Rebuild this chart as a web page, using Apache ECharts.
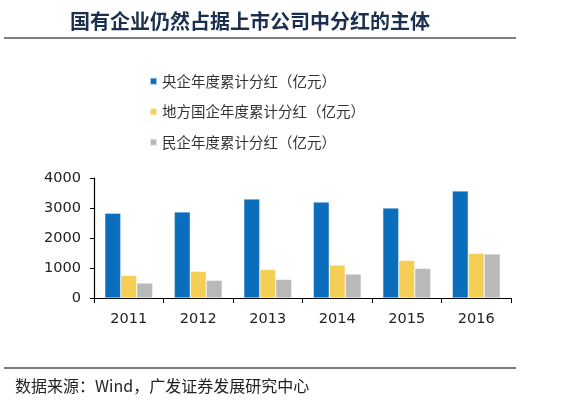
<!DOCTYPE html>
<html><head><meta charset="utf-8">
<script src="https://cdn.jsdelivr.net/npm/echarts@6/dist/echarts.min.js"></script>
<style>html,body{margin:0;padding:0;background:#fff}#c{width:565px;height:403px}</style>
</head><body><div id="c"></div>
<script>
var categories = ['2011','2012','2013','2014','2015','2016'];
var central = [2830, 2870, 3300, 3200, 3000, 3570];
var local = [755, 890, 955, 1100, 1255, 1490];
var privateEnt = [500, 590, 620, 800, 990, 1470];
var seriesNames = ['央企年度累计分红（亿元）','地方国企年度累计分红（亿元）','民企年度累计分红（亿元）'];
var yTicks = [0, 1000, 2000, 3000, 4000];

var chart = echarts.init(document.getElementById('c'));
var cjk = '"Noto Sans CJK SC", sans-serif';
var barBorder = {borderColor:'rgba(255,255,255,0.6)', borderWidth:0.6};
chart.setOption({
  animation:false,
  textStyle:{fontFamily:'"DejaVu Sans", sans-serif'},
  graphic:[
    {type:'text', left:70, top:11, style:{text:'国有企业仍然占据上市公司中分红的主体', font:'bold 20px "Noto Sans CJK SC"', fill:'#1b2f4e'}},
    {type:'line', shape:{x1:4,y1:38,x2:516,y2:38}, style:{stroke:'#000', lineWidth:1.2}},
    {type:'line', shape:{x1:4,y1:368,x2:516,y2:368}, style:{stroke:'#000', lineWidth:1.2}},
    {type:'text', left:15, top:378, style:{text:'数据来源：Wind，广发证券发展研究中心', font:'16px "Noto Sans CJK SC"', fill:'#222'}}
  ],
  legend:{
    orient:'vertical', left:144, top:69, itemWidth:7, itemHeight:7, itemGap:16,
    icon:'rect',
    textStyle:{fontFamily:cjk, fontSize:14.5, color:'#333'},
    data:seriesNames
  },
  grid:{left:94, right:54, top:178, bottom:105},
  xAxis:{
    type:'category', data:categories,
    axisLine:{lineStyle:{color:'#000', width:1.2}},
    axisTick:{show:true, length:5, lineStyle:{color:'#000'}},
    axisLabel:{fontSize:14.5, color:'#222', margin:14}
  },
  yAxis:{
    type:'value', min:yTicks[0], max:yTicks[yTicks.length-1], interval:1000,
    splitLine:{show:false},
    axisLine:{show:true, lineStyle:{color:'#000', width:1.2}},
    axisTick:{show:true, length:4, lineStyle:{color:'#000'}},
    axisLabel:{fontSize:14.5, color:'#222', margin:13, formatter:function(v){return String(v);}}
  },
  series:[
    {name:seriesNames[0], type:'bar', data:central, barGap:'0%', barCategoryGap:'31%', itemStyle:Object.assign({color:'#0a6ebd'}, barBorder)},
    {name:seriesNames[1], type:'bar', data:local, itemStyle:Object.assign({color:'#f5cf55'}, barBorder)},
    {name:seriesNames[2], type:'bar', data:privateEnt, itemStyle:Object.assign({color:'#b9b9b9'}, barBorder)}
  ]
});
</script></body></html>
